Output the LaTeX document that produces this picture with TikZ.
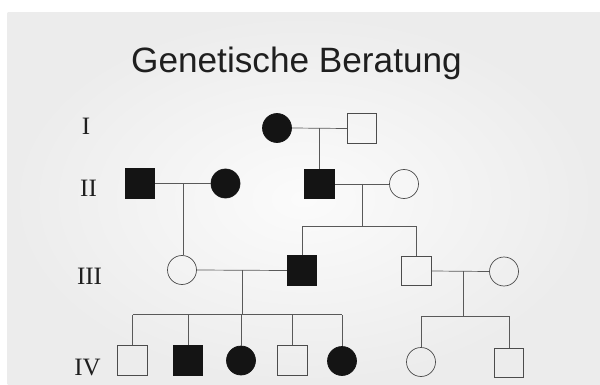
\documentclass[tikz,border=0pt]{standalone}
\usepackage{fontspec}
\setmainfont{Liberation Serif}
\newfontfamily\titlefont{Liberation Sans}
\usetikzlibrary{calc}
\tikzset{
  ind/.style={inner sep=0pt, line width=0.7pt, draw=black!70},
  male/.style={ind, rectangle, minimum size=29.5pt},
  female/.style={ind, circle, minimum size=29pt},
  aff/.style={fill=black!92, draw=black!92},
  unaff/.style={fill=none},
  link/.style={line width=0.7pt, draw=black!65},
  gen/.style={font=\fontsize{25}{25}\selectfont, text=black!88, anchor=base},
}
\begin{document}
\begin{tikzpicture}[x=1pt,y=-1pt]
\useasboundingbox (0,0) rectangle (600,385);
\fill[white] (0,0) rectangle (600,385);
\shade[inner color=gray!3, outer color=gray!15] (7.5,12.5) rectangle (600,385);

\node[font=\titlefont\fontsize{35.2}{35.2}\selectfont, text=black!88, anchor=base] (title) at (296.5,72.5) {Genetische Beratung};

% generation labels
\node[gen] (gI) at (86,134.3) {I};
\node[gen] (gII) at (88.5,196.7) {II};
\node[gen] (gIII) at (89.5,284.4) {III};
\node[gen] (gIV) at (87.5,375.7) {IV};

% generation I
\node[female,aff] (I1) at (277,128) {};
\node[male,unaff] (I2) at (362,128.5) {};
% generation II
\node[male,aff] (II1) at (140,183.5) {};
\node[female,aff] (II2) at (225.5,183.5) {};
\node[male,aff] (II3) at (319.5,184) {};
\node[female,unaff] (II4) at (404,184) {};
% generation III
\node[female,unaff] (III1) at (182,270) {};
\node[male,aff] (III2) at (302,270.5) {};
\node[male,unaff] (III3) at (416.5,271) {};
\node[female,unaff] (III4) at (504,271.5) {};
% generation IV
\node[male,unaff] (IV1) at (132.5,360.5) {};
\node[male,aff] (IV2) at (188,360.5) {};
\node[female,aff] (IV3) at (241,360.5) {};
\node[male,unaff] (IV4) at (292.5,360.5) {};
\node[female,aff] (IV5) at (342,361) {};
\node[female,unaff] (IV6) at (421,362) {};
\node[male,unaff] (IV7) at (509,363) {};

% couples
\draw[link] (I1.east) -- (I2.west);
\draw[link] (II1.east) -- (II2.west);
\draw[link] (II3.east) -- (II4.west);
\draw[link] (III1.east) -- (III2.west);
\draw[link] (III3.east) -- (III4.west);
\coordinate (m1) at ($(I1.east)!0.5!(I2.west)$);
\coordinate (m2) at ($(II1.east)!0.5!(II2.west)$);
\coordinate (m3) at ($(II3.east)!0.5!(II4.west)$);
\coordinate (m4) at ($(III1.east)!0.5!(III2.west)$);
\coordinate (m5) at (463.5,271);

% descent lines
\draw[link] (m1) -- (m1 |- II3.north);
\draw[link] (m2) -- (m2 |- III1.north);
\coordinate (s3) at ($(m3)+(0,42.5)$);
\draw[link] (m3) -- (s3);
\draw[link] (III2.north |- s3) -- (III3.north |- s3);
\draw[link] (III2.north) -- (III2.north |- s3);
\draw[link] (III3.north) -- (III3.north |- s3);

\coordinate (s4) at (m4 |- 0,314.5);
\draw[link] (m4) -- (s4);
\draw[link] (IV1.north |- s4) -- (IV5.north |- s4);
\foreach \c in {IV1,IV2,IV3,IV4,IV5}
  \draw[link] (\c.north) -- (\c.north |- s4);

\coordinate (s5) at (463.5,316);
\draw[link] (m5) -- (s5);
\draw[link] (IV6.north |- s5) -- (IV7.north |- s5);
\draw[link] (IV6.north) -- (IV6.north |- s5);
\draw[link] (IV7.north) -- (IV7.north |- s5);
\end{tikzpicture}
\end{document}
